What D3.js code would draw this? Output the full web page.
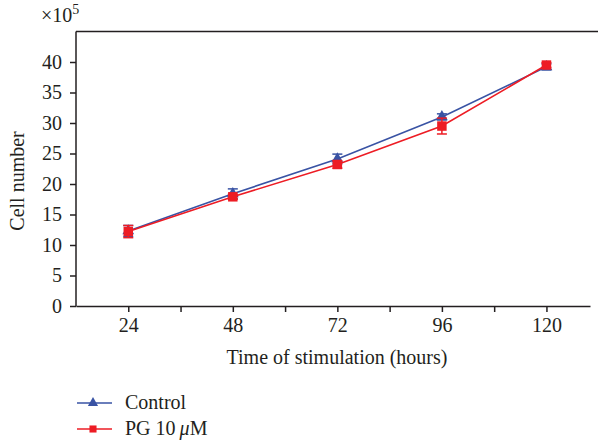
<!DOCTYPE html>
<html>
<head>
<meta charset="utf-8">
<script src="https://cdn.jsdelivr.net/npm/d3@7"></script>
<style>
  body { margin: 0; background: #fff; }
  svg text { font-family: "Liberation Serif", "DejaVu Serif", serif; fill: #231f20; }
</style>
</head>
<body>
<div id="chart"></div>
<script>
// data
const hours = [24, 48, 72, 96, 120];
const control = [12.3, 18.4, 24.1, 31.0, 39.2];
const controlErr = [0.9, 0.8, 0.8, 0.5, 0.5];
const pg = [12.2, 17.9, 23.2, 29.5, 39.5];
const pgErr = [1.0, 0.4, 0.6, 1.3, 0.4];
const yTicks = [0, 5, 10, 15, 20, 25, 30, 35, 40];
const minorTicks = [36, 60, 84, 108];

const width = 598, height = 442;
let svg = d3.select("#chart").append("svg")
    .attr("width", width)
    .attr("height", height);

let x = d3.scaleLinear().domain([12, 130]).range([76, 590]);
let y = d3.scaleLinear().domain([0, 45]).range([306, 31.5]);

const blue = "#3953a4", red = "#ed1c24";

// top frame line
svg.append("line")
    .attr("x1", x(12)).attr("x2", width)
    .attr("y1", y(45)).attr("y2", y(45))
    .attr("stroke", "#231f20").attr("stroke-width", 1.5);

// axes
let yAxis = svg.append("g")
    .attr("transform", `translate(${x(12)},0)`)
    .call(d3.axisLeft(y).tickValues(yTicks).tickSize(6).tickPadding(8).tickSizeOuter(0));
let xAxis = svg.append("g")
    .attr("transform", `translate(0,${y(0)})`)
    .call(d3.axisBottom(x).tickValues(hours).tickSize(6).tickPadding(6).tickSizeOuter(0));
svg.append("g")
    .attr("transform", `translate(0,${y(0)})`)
    .call(d3.axisBottom(x).tickValues(minorTicks).tickSize(6).tickFormat(""))
    .select(".domain").remove();

svg.selectAll(".domain, .tick line").attr("stroke", "#231f20").attr("stroke-width", 1.5);
svg.selectAll(".tick text").style("font-size", "20px");
// y axis line from 0 to 45
yAxis.select(".domain").attr("d", `M0,${y(0) + 0.5}V${y(45)}`);

// axis titles
svg.append("text")
    .attr("x", 337).attr("y", 364)
    .style("text-anchor", "middle").style("font-size", "20px")
    .text("Time of stimulation (hours)");
svg.append("text")
    .attr("transform", `translate(24,${y(20.5)}) rotate(-90)`)
    .style("text-anchor", "middle").style("font-size", "20px")
    .text("Cell number");
let mult = svg.append("text")
    .attr("x", 41).attr("y", 22)
    .style("font-size", "20px");
mult.append("tspan").text("\u00d710");
mult.append("tspan").attr("dy", -8).style("font-size", "14px").text("5");

// series
function drawSeries(vals, errs, color, shape) {
    let line = d3.line().x((d, i) => x(hours[i])).y(d => y(d));
    svg.append("path")
        .datum(vals)
        .attr("fill", "none")
        .attr("stroke", color)
        .attr("stroke-width", 1.6)
        .attr("d", line);
    let g = svg.append("g");
    vals.forEach(function(v, i) {
        let cx = x(hours[i]);
        g.append("line")
            .attr("x1", cx).attr("x2", cx)
            .attr("y1", y(v - errs[i])).attr("y2", y(v + errs[i]))
            .attr("stroke", color).attr("stroke-width", 1.5);
        [v - errs[i], v + errs[i]].forEach(function(e) {
            g.append("line")
                .attr("x1", cx - 5).attr("x2", cx + 5)
                .attr("y1", y(e)).attr("y2", y(e))
                .attr("stroke", color).attr("stroke-width", 1.5);
        });
    });
    g.selectAll("path.mark")
        .data(vals)
        .enter().append("path")
        .attr("class", "mark")
        .attr("transform", (d, i) => `translate(${x(hours[i])},${y(d)})`)
        .attr("d", d3.symbol().type(shape).size(shape === d3.symbolSquare ? 90 : 60))
        .attr("fill", color);
}
drawSeries(control, controlErr, blue, d3.symbolTriangle);
drawSeries(pg, pgErr, red, d3.symbolSquare);

// legend
const legend = [
    {label: "Control", color: blue, shape: d3.symbolTriangle, size: 45},
    {label: "PG 10\u2009", color: red, shape: d3.symbolSquare, size: 50}
];
legend.forEach(function(l, i) {
    let ly = 403 + i * 26;
    svg.append("line")
        .attr("x1", 77).attr("x2", 112).attr("y1", ly).attr("y2", ly)
        .attr("stroke", l.color).attr("stroke-width", 1.6);
    svg.append("path")
        .attr("transform", `translate(93,${ly})`)
        .attr("d", d3.symbol().type(l.shape).size(l.size))
        .attr("fill", l.color);
    let t = svg.append("text")
        .attr("x", 125).attr("y", ly + 6)
        .style("font-size", "20px")
        .text(l.label);
    if (i === 1) {
        t.append("tspan").style("font-style", "italic").text("\u03bc");
        t.append("tspan").text("M");
    }
});
</script>
</body>
</html>
